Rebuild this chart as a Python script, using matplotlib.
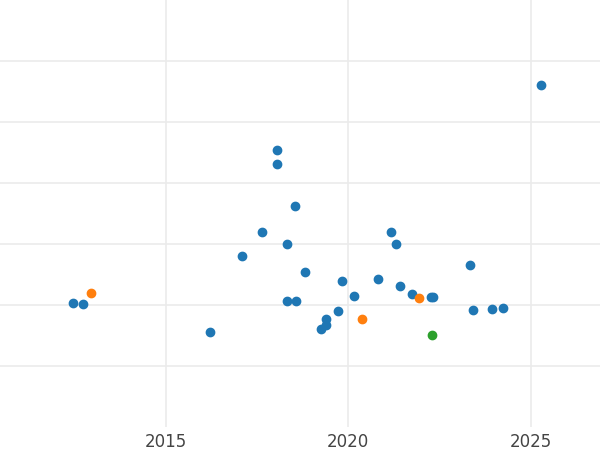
import matplotlib
matplotlib.use("Agg")
import matplotlib.pyplot as plt

blue_year = [2012.45, 2012.73, 2016.21, 2017.08, 2017.63, 2018.04, 2018.04, 2018.32,
             2018.32, 2018.53, 2018.56, 2018.81, 2019.25, 2019.38, 2019.38, 2019.71,
             2019.82, 2020.16, 2020.81, 2021.16, 2021.30, 2021.41, 2021.74, 2022.26,
             2022.32, 2023.33, 2023.41, 2023.93, 2024.23, 2025.29]
blue_val = [2.03, 2.02, 1.56, 2.80, 3.20, 4.54, 4.31, 3.00,
            2.07, 3.62, 2.07, 2.54, 1.61, 1.77, 1.67, 1.90,
            2.39, 2.15, 2.43, 3.20, 3.00, 2.31, 2.18, 2.13,
            2.13, 2.66, 1.92, 1.93, 1.95, 5.61]
orange_year = [2012.95, 2020.37, 2021.93]
orange_val = [2.20, 1.77, 2.11]
green_year = [2022.29]
green_val = [1.51]

fig = plt.figure(figsize=(6, 4.5), dpi=100)
ax = fig.add_axes([0, 1 - 427 / 450, 1, 427 / 450])
ax.scatter(blue_year, blue_val, s=36, color="#1f77b4", zorder=3)
ax.scatter(orange_year, orange_val, s=36, color="#ff7f0e", zorder=3)
ax.scatter(green_year, green_val, s=36, color="#2ca02c", zorder=3)

ax.set_xlim(2010.45, 2026.9)
ax.set_ylim(0, 7.0)
ax.set_xticks([2015, 2020, 2025])
ax.set_yticks([1, 2, 3, 4, 5, 6])
ax.set_yticklabels([])
ax.tick_params(axis="both", length=0, labelsize=12, labelcolor="#444444")
ax.tick_params(axis="x", pad=4)
ax.grid(True, color="#ebebeb", linewidth=1.2, zorder=0)
ax.set_axisbelow(True)
for s in ax.spines.values():
    s.set_visible(False)

fig.savefig("out.png", dpi=100)
